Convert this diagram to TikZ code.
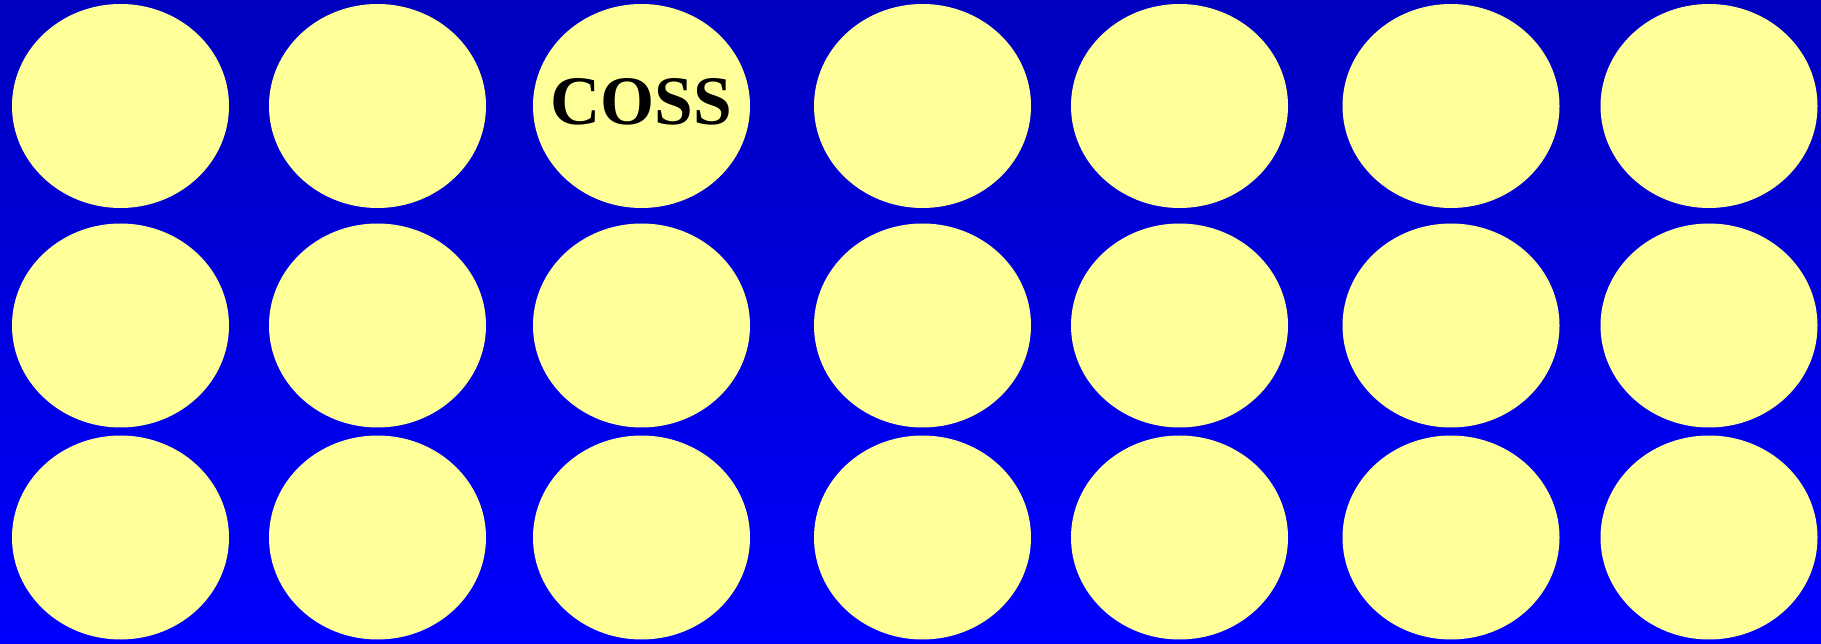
\documentclass[tikz,border=0pt]{standalone}
\usepackage{fontspec}
\setmainfont{Liberation Serif}
\usetikzlibrary{shapes.geometric}
\definecolor{bgtop}{RGB}{0,0,190}
\definecolor{bgbot}{RGB}{0,0,255}
\definecolor{disc}{RGB}{255,255,153}
\tikzset{
  disk/.style={ellipse, fill=disc, draw=none, inner sep=0pt,
    minimum width=217pt, minimum height=204pt},
  disklabel/.style={font=\bfseries\fontsize{69.5}{80}\selectfont, text=black, yshift=4pt}
}
\begin{document}
\begin{tikzpicture}[x=1pt,y=1pt]
\path[use as bounding box, top color=bgtop, bottom color=bgbot] (0,0) rectangle (1821,643);
\foreach \c/\x in {1/120.5,2/377.5,3/641.5,4/922.5,5/1179.5,6/1451,7/1709}{
  \foreach \r/\y in {1/537,2/317.5,3/105.5}{
    \ifnum\r\c=13\relax
    \else
      \node[disk] (c\r\c) at (\x,\y) {};
    \fi
  }
}
\node[disk, label={[disklabel]center:COSS}] (c13) at (641.5,537) {};
\end{tikzpicture}
\end{document}
